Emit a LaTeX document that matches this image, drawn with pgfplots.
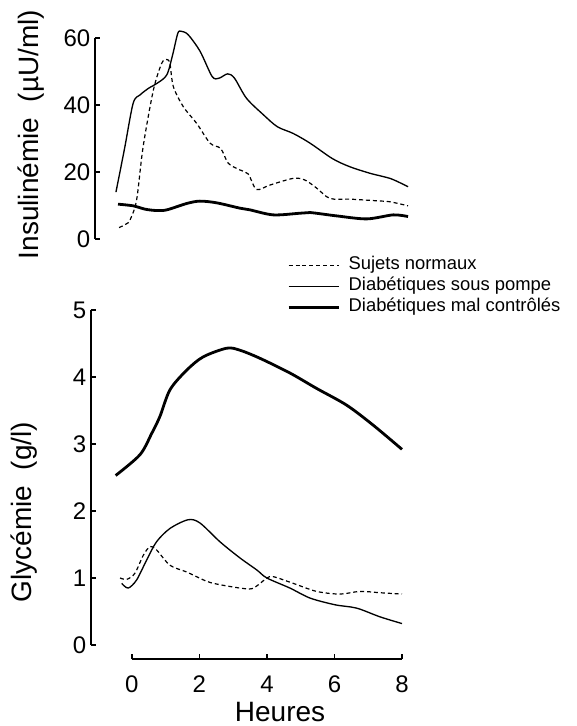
\documentclass[border=0pt]{standalone}
\usepackage{pgfplots}
\pgfplotsset{compat=1.18}
\usepackage{fontspec}
\setmainfont{Liberation Sans}
\begin{document}
\begin{tikzpicture}
\useasboundingbox (0pt,0pt) rectangle (432pt,544.5pt);
\pgfplotsset{
  common/.style={
    scale only axis, clip=false,
    axis y line*=left,
    tick align=inside, major tick length=4pt,
    every tick/.style={black, line width=1pt},
    axis line style={black, line width=1.1pt},
    /pgf/number format/assume math mode=true,
    tick label style={font=\fontsize{18}{21}\selectfont},
    label style={font=\fontsize{21}{24}\selectfont},
  },
  thinline/.style={black, line width=1pt, smooth, tension=0.5},
  thickline/.style={black, line width=2.1pt, smooth, tension=0.5},
  dashline/.style={black, line width=0.9pt, dash pattern=on 3pt off 2.2pt, smooth, tension=0.5},
}
% ---------- top panel: insulinemia ----------
\begin{axis}[common,
  at={(71.25pt,365.25pt)}, anchor=south west,
  width=234.75pt, height=150.75pt,
  xmin=-1.11, xmax=8, ymin=0, ymax=60,
  axis x line=none,
  ytick={0,20,40,60},
  ylabel={Insulinémie\ \ (µU/ml)},
  ylabel style={at={(axis description cs:-0.204,0.52)}, anchor=center},
]
\addplot[dashline] coordinates {
(-0.41,3.4) (-0.2,4.5) (-0.09,5.7) (0.10,11.6) (0.29,27.5) (0.59,44.5) (0.83,52.4) (0.97,53.6) (1.07,52.4) (1.17,45.5) (1.46,39.5) (1.85,34.5) (2.24,28.6) (2.55,27) (2.77,22.6) (3.11,20.6) (3.35,19.4) (3.59,14.8) (3.98,16.1) (4.66,18.1) (5.0,17.6) (5.34,15.2) (5.73,12.1) (6.31,11.9) (7.09,11.4) (7.48,11.1) (8.0,9.9)
};
\addplot[thinline] coordinates {
(-0.5,14) (-0.25,27) (0,40.5) (0.2,43) (0.45,45) (0.7,46.5) (0.98,49) (1.15,55) (1.3,61.4) (1.4,62) (1.6,61) (1.95,56) (2.3,48.5) (2.5,48) (2.75,49.3) (2.95,48) (3.3,42) (3.8,37) (4.2,33.5) (4.66,31.5) (5.15,28.6) (5.8,24) (6.3,21.6) (6.9,19.6) (7.5,18) (8,15.6)
};
\addplot[thickline] coordinates {
(-0.44,10.4) (0,9.9) (0.35,8.9) (0.68,8.5) (0.98,8.7) (1.56,10.6) (1.94,11.3) (2.43,10.8) (3.11,9.2) (3.40,8.7) (4.08,7.2) (4.86,7.7) (5.15,7.9) (5.92,6.9) (6.80,6.0) (7.57,7.2) (8.0,6.7)
};
\end{axis}
% ---------- bottom panel: glycemia ----------
\begin{axis}[common,
  at={(68.25pt,60.75pt)}, anchor=south west,
  width=233.25pt, height=251.25pt,
  xmin=-1.21, xmax=8, ymin=0, ymax=5,
  axis x line*=bottom,
  axis x line shift=10.5pt,
  x axis line style={shorten <=30.6pt},
  xtick={0,2,4,6,8}, ytick={0,1,2,3,4,5},
  xticklabel style={yshift=-9pt},
  xlabel={Heures},
  xlabel style={at={(axis description cs:0.608,-0.229)}, anchor=base},
  ylabel={Glycémie\ \ (g/l)},
  ylabel style={at={(axis description cs:-0.215,0.397)}, anchor=center},
  legend style={at={(axis description cs:0.63,1.161)}, anchor=north west,
    draw=none, fill=none, font=\fontsize{13.8}{16}\selectfont,
    row sep=2.25pt, column sep=6pt, inner sep=0pt,
    nodes={inner sep=0pt, text height=10pt, text depth=3.5pt}},
  legend cell align=left,
  legend image code/.code={\draw[#1] (0pt,0pt) -- (38pt,0pt);},
]
\addplot[dashline] coordinates {
(-0.35,1.0) (-0.15,0.98) (0.09,1.07) (0.34,1.34) (0.54,1.47) (0.73,1.42) (1.13,1.19) (1.62,1.09) (2.22,0.95) (2.61,0.90) (3.20,0.85) (3.55,0.84) (3.80,0.92) (4.0,1.0) (4.19,1.02) (4.78,0.92) (5.47,0.80) (6.16,0.76) (6.76,0.80) (7.35,0.78) (8.0,0.76)
};
\addlegendentry{Sujets normaux}
\addplot[thinline] coordinates {
(-0.30,0.92) (-0.11,0.85) (0.14,0.97) (0.44,1.27) (0.73,1.54) (1.13,1.74) (1.67,1.87) (2.02,1.82) (2.61,1.54) (3.20,1.30) (3.70,1.12) (4.0,1.0) (4.68,0.85) (5.28,0.70) (6.02,0.60) (6.66,0.55) (7.35,0.42) (8.0,0.32)
};
\addlegendentry{Diabétiques sous pompe}
\addplot[thickline] coordinates {
(-0.48,2.53) (0.24,2.84) (0.59,3.16) (0.83,3.41) (1.13,3.81) (1.62,4.10) (2.11,4.30) (2.81,4.43) (3.20,4.40) (3.79,4.28) (4.68,4.06) (5.47,3.83) (6.36,3.58) (7.15,3.28) (8.0,2.92)
};
\addlegendentry{Diabétiques mal contrôlés}
\end{axis}
\end{tikzpicture}
\end{document}
